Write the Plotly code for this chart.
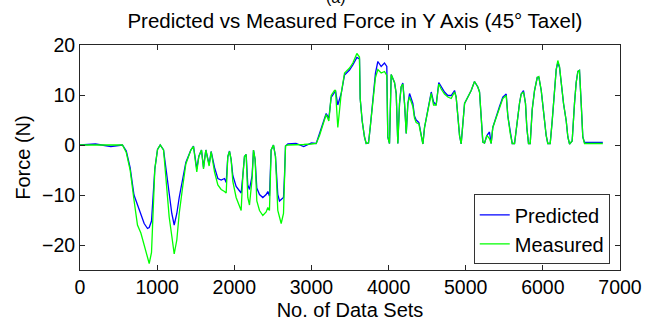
import plotly.graph_objects as go

# Data sets index (x) with measured and predicted force values (N)
data_sets = [0, 200, 400, 550, 600, 650, 700, 745, 789, 832, 875, 897, 927, 953, 970, 1005, 1040, 1083,
             1113, 1156, 1190, 1221, 1255, 1286, 1329, 1372, 1437, 1471, 1514, 1540, 1575, 1601, 1631,
             1674, 1700, 1744, 1787, 1830, 1873, 1895, 1916, 1938, 1959, 1981, 2024, 2067, 2089, 2111,
             2132, 2154, 2175, 2197, 2231, 2249, 2270, 2292, 2327, 2370, 2413, 2435, 2456, 2478, 2508,
             2534, 2564, 2586, 2608, 2638, 2651, 2664, 2694, 2800, 2900, 3000, 3062, 3105, 3148, 3191,
             3226, 3256, 3299, 3312, 3342, 3386, 3429, 3494, 3537, 3589, 3623, 3632, 3658, 3688, 3710,
             3740, 3762, 3796, 3830, 3861, 3904, 3947, 3977, 3990, 4012, 4034, 4077, 4099, 4120, 4142,
             4163, 4185, 4207, 4229, 4250, 4272, 4315, 4336, 4358, 4393, 4423, 4445, 4466, 4488, 4522,
             4553, 4583, 4617, 4651, 4682, 4725, 4768, 4812, 4855, 4876, 4898, 4920, 4941, 4963, 4985,
             5028, 5071, 5114, 5157, 5179, 5200, 5222, 5244, 5274, 5308, 5330, 5351, 5395, 5438, 5481,
             5525, 5546, 5577, 5603, 5633, 5663, 5697, 5719, 5749, 5775, 5792, 5814, 5836, 5862, 5892,
             5927, 5948, 5979, 6008, 6043, 6064, 6095, 6121, 6151, 6173, 6194, 6216, 6238, 6268, 6303,
             6324, 6346, 6380, 6410, 6432, 6454, 6475, 6497, 6518, 6540, 6777]

measured = [0, 0, 0, 0, -1.5, -5, -11, -16, -17.6, -20.2, -22.8, -23.7, -21.5, -10, -4.8, -0.9, 0, -1,
            -6.7, -14.4, -18.2, -21.8, -19, -13.7, -8.6, -3.8, -1, -0.3, -5.4, -2.3, -1, -4.8, -1,
            -4.2, -1.3, -5.4, -8, -8.9, -9.3, -9.6, -2.3, -1.3, -2.9, -7.3, -10.5, -12, -13.1, -6.1,
            -2.3, -1.9, -10.5, -12, -6.7, -1, -2.9, -11.2, -13.1, -14.1, -13.4, -12.5, -13.1, -1, 0,
            -2.3, -13.1, -14.4, -15.7, -13.7, -6.1, -0.2, 0, 0, 0.1, 0.2, 0.3, 1.9, 4.2, 6.1,
            4.8, 9.9, 10.9, 10.9, 3.5, 10.3, 14.4, 15.4, 16.4, 18.3, 17.6, 9.3, 4.8, 1.6, 0.3,
            0.4, 3.5, 9.3, 13.5, 15.1, 14.4, 14.7, 13.9, 1.6, 0.3, 14.1, 12.5, 10.3, 0.3, 8.3,
            11.6, 12.2, 8.3, 2.3, 8.3, 9.6, 7.7, 5.4, 4.5, 4.2, 1.6, 0.2, 3.5, 5.4, 8.3,
            10.3, 8, 8, 12.2, 11.2, 10.2, 9.6, 9.3, 10.6, 9.6, 5.8, 1.9, 0.2, 5.1, 8.3,
            9.6, 10.9, 12.7, 11.6, 10.6, 4.5, 0.6, 0.4, 1.9, 1.3, 0.3, 3.5, 5.4, 7.4, 9.3,
            9.9, 5.8, 2.3, 0.3, 0.3, 4.5, 8.3, 10.2, 10.6, 8.3, 3.5, 0.3, 0.3, 7.1, 10.9,
            13.5, 13.7, 10.9, 6.4, 1.9, 0.3, 0.3, 4.8, 11.2, 15.1, 16.9, 15.7, 12.5, 8.3, 4.8,
            1.6, 0.2, 0.8, 8.3, 12.5, 14.7, 14.9, 8.3, 1.6, 0.3, 0.3]

predicted = [0, 0.2, -0.3, 0, -1.2, -4.5, -10, -12, -13.7, -15.7, -16.7, -16.5, -15.2, -9.9, -4.8, -0.9, 0, -1,
             -4.8, -9.9, -13.7, -16, -13.7, -10.5, -7.3, -3.5, -1, -0.2, -4.8, -2.3, -1, -4.5, -1,
             -3.9, -1.3, -4.5, -6.7, -7, -6.7, -7.5, -2.3, -1.2, -2.9, -6.1, -8.3, -9.3, -9.6, -6.1,
             -2.3, -1.9, -8, -8.9, -6.1, -1, -2.9, -8.6, -9.9, -10.5, -9.9, -9.3, -10.2, -1, 0,
             -2.3, -9.9, -11.2, -10.9, -10.5, -6.1, -0.2, 0.2, 0.3, -0.3, 0.4, 0.3, 2.2, 4.5, 6.3,
             5.4, 9.5, 10.5, 10.9, 8, 10.3, 14, 15, 16, 17.5, 17.2, 9.3, 4.8, 1.6, 0.3,
             0.4, 3.5, 9.3, 14.4, 16.7, 15.7, 16.4, 15.7, 1.6, 0.3, 14.1, 12.5, 10.3, 0.3, 8.3,
             11.6, 12.4, 8.3, 2.3, 8.3, 10.3, 8.3, 5.8, 5, 4.5, 1.6, 0.2, 3.5, 5.4, 8.6,
             10.6, 8.6, 8, 12.5, 11.6, 10.6, 9.9, 9.9, 10.9, 9.6, 5.8, 1.9, 0.2, 5.1, 8.3,
             9.6, 10.9, 12.7, 11.6, 10.6, 4.5, 0.6, 0.4, 1.9, 2.6, 0.3, 3.5, 5.8, 7.7, 9.6,
             10.2, 5.8, 2.3, 0.3, 0.3, 4.5, 8.3, 10.2, 10.9, 8.3, 3.5, 0.3, 0.3, 7.1, 10.9,
             13.5, 13.5, 10.9, 6.4, 1.9, 0.3, 0.3, 4.8, 11.2, 15.1, 16.5, 15.5, 12.5, 8.3, 4.8,
             1.6, 0.2, 0.8, 8.3, 12.5, 14.7, 14.9, 8.3, 1.6, 0.5, 0.5]

x_ticks = [0, 1000, 2000, 3000, 4000, 5000, 6000, 7000]
y_ticks = [-20, -10, 0, 10, 20]

FONT = "Liberation Sans, Arial, sans-serif"

fig = go.Figure()
fig.add_trace(go.Scatter(x=data_sets, y=predicted, mode="lines", name="Predicted",
                         line=dict(color="#0000FF", width=1.3)))
fig.add_trace(go.Scatter(x=data_sets, y=measured, mode="lines", name="Measured",
                         line=dict(color="#00FF00", width=1.3)))

axis_common = dict(showgrid=False, zeroline=False, showline=True, linecolor="#262626", linewidth=1,
                   mirror="ticks", ticks="inside", ticklen=5, tickcolor="#262626",
                   tickfont=dict(family=FONT, size=19.5, color="black"))

fig.update_xaxes(range=[0, 7000], tickvals=x_ticks,
                 title=dict(text="No. of Data Sets", font=dict(family=FONT, size=20, color="black"), standoff=5),
                 **axis_common)
fig.update_yaxes(range=[-25, 20], tickvals=y_ticks,
                 title=dict(text="Force (N)", font=dict(family=FONT, size=20, color="black"), standoff=6),
                 **axis_common)

fig.update_layout(
    width=656, height=329,
    margin=dict(l=80, r=36, t=45, b=51),
    paper_bgcolor="white", plot_bgcolor="white",
    font=dict(family=FONT, color="black"),
    title=dict(text="Predicted vs Measured Force in Y Axis (45° Taxel)",
               font=dict(family=FONT, size=20.5, color="black"),
               x=0.509, xref="paper", xanchor="center", y=0.937, yref="container", yanchor="middle"),
    legend=dict(x=0.981, y=0.025, xanchor="right", yanchor="bottom",
                bgcolor="white", bordercolor="#333333", borderwidth=1,
                font=dict(family=FONT, size=20, color="black"),
                tracegroupgap=0, itemwidth=30),
    showlegend=True,
    annotations=[dict(text="(a)", x=0.474, y=1.163, xref="paper", yref="paper",
                      xanchor="center", yanchor="bottom", showarrow=False,
                      font=dict(family=FONT, size=16, color="black"))],
)

fig.write_html("out.html")
